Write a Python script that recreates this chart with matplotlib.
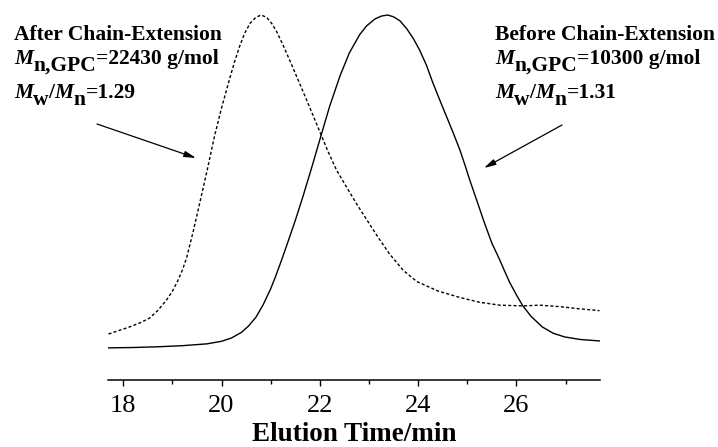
import matplotlib
matplotlib.use("Agg")
import matplotlib.pyplot as plt
from matplotlib.ticker import MultipleLocator

# GPC traces (elution time in min, normalised RI signal)
t_before = [17.69, 18.20, 18.70, 19.20, 19.70, 20.00, 20.20, 20.40, 20.55, 20.70,
            20.85, 21.00, 21.10, 21.22, 21.35, 21.50, 21.65, 21.83, 22.04, 22.20,
            22.41, 22.60, 22.81, 22.95, 23.12, 23.25, 23.38, 23.50, 23.63, 23.77,
            23.90, 24.03, 24.17, 24.30, 24.44, 24.58, 24.72, 24.85, 24.95, 25.05,
            25.19, 25.35, 25.50, 25.66, 25.76, 25.86, 26.00, 26.13, 26.30, 26.53,
            26.75, 26.98, 27.30, 27.69]
i_before = [0.088, 0.089, 0.091, 0.094, 0.099, 0.106, 0.115, 0.130, 0.148, 0.172,
            0.207, 0.250, 0.284, 0.328, 0.378, 0.437, 0.500, 0.580, 0.677, 0.750,
            0.833, 0.896, 0.946, 0.970, 0.989, 0.997, 1.000, 0.995, 0.984, 0.962,
            0.936, 0.904, 0.862, 0.814, 0.767, 0.721, 0.675, 0.630, 0.590, 0.548,
            0.493, 0.430, 0.375, 0.329, 0.298, 0.268, 0.233, 0.203, 0.174, 0.145,
            0.128, 0.118, 0.111, 0.107]

t_after = [17.70, 17.90, 18.14, 18.35, 18.54, 18.70, 18.88, 19.00, 19.11, 19.20,
           19.29, 19.42, 19.56, 19.70, 19.86, 20.00, 20.17, 20.27, 20.37, 20.47,
           20.58, 20.70, 20.81, 20.92, 21.02, 21.12, 21.25, 21.40, 21.59, 21.80,
           22.00, 22.17, 22.34, 22.55, 22.75, 22.95, 23.20, 23.42, 23.70, 23.97,
           24.40, 24.85, 25.25, 25.66, 26.13, 26.47, 26.88, 27.29, 27.69]
i_after = [0.126, 0.135, 0.146, 0.157, 0.170, 0.190, 0.219, 0.243, 0.272, 0.300,
           0.335, 0.405, 0.487, 0.570, 0.670, 0.745, 0.828, 0.874, 0.915, 0.950,
           0.977, 0.994, 1.000, 0.993, 0.977, 0.955, 0.918, 0.872, 0.812, 0.745,
           0.680, 0.625, 0.575, 0.527, 0.482, 0.440, 0.388, 0.345, 0.300, 0.270,
           0.244, 0.226, 0.213, 0.205, 0.203, 0.205, 0.201, 0.195, 0.190]

after_lines = ["After Chain-Extension", "22430 g/mol", "1.29"]
before_lines = ["Before Chain-Extension", "10300 g/mol", "1.31"]

SERIF = "Liberation Serif"
W, H = 718, 447

fig = plt.figure(figsize=(7.18, 4.47), dpi=100)
ax = fig.add_axes([108 / W, 1 - 380 / H, (600 - 108) / W, 370 / H])

ax.plot(t_before, i_before, color="black", lw=1.0)
ax.plot(t_after, i_after, color="black", lw=1.0, linestyle=(0, (2.2, 1.6)))

ax.set_xlim(17.69, 27.70)
ax.set_ylim(0, 370 / 365)

for s in ["left", "right", "top"]:
    ax.spines[s].set_visible(False)
ax.spines["bottom"].set_linewidth(1.1)
ax.set_yticks([])
ax.xaxis.set_major_locator(MultipleLocator(2))
ax.xaxis.set_minor_locator(MultipleLocator(1))
ax.tick_params(axis="x", which="major", direction="out", length=4.5, width=1.0, pad=6,
               labelsize=19)
ax.tick_params(axis="x", which="minor", direction="out", length=3.2, width=1.0)
for lab in ax.get_xticklabels():
    lab.set_fontfamily(SERIF)
ax.set_xlabel("Elution Time/min", fontfamily=SERIF, fontweight="bold", fontsize=19.5,
              labelpad=4)


def px(x, y):
    # figure-pixel position -> figure fraction
    return x / W, 1 - y / H


def chain(first, pieces, size):
    """Write text pieces one after another; each piece is (text, style, drop_px)."""
    prev = first
    prev_drop = 0
    for txt, style, drop in pieces:
        dy = -(drop - prev_drop) * 72 / 100
        prev = ax.annotate(txt, xy=(1, 0), xycoords=prev, xytext=(0, dy),
                           textcoords="offset points", va="bottom", ha="left",
                           fontfamily=SERIF, fontweight="bold", fontstyle=style,
                           fontsize=size, annotation_clip=False)
        prev_drop = drop
    return prev


def label_block(x0, lines, size=15.5):
    fig.text(*px(x0, 40), lines[0], fontfamily=SERIF, fontweight="bold",
             fontsize=size, va="baseline", ha="left")
    m1 = fig.text(*px(x0, 64), "M", fontfamily=SERIF, fontweight="bold",
                  fontstyle="italic", fontsize=size, va="baseline", ha="left")
    chain(m1, [("n,GPC", "normal", 7), ("=" + lines[1], "normal", 0)], size)
    m2 = fig.text(*px(x0, 98), "M", fontfamily=SERIF, fontweight="bold",
                  fontstyle="italic", fontsize=size, va="baseline", ha="left")
    chain(m2, [("w", "normal", 7), ("/", "normal", 0), ("M", "italic", 0),
               ("n", "normal", 7), ("=" + lines[2], "normal", 0)], size)


label_block(14, after_lines)
label_block(495, before_lines)

arrow = dict(arrowstyle="-|>,head_length=0.7,head_width=0.18", color="black",
             lw=0.9, shrinkA=0, shrinkB=0)
ax.annotate("", xy=px(196, 158), xycoords="figure fraction",
            xytext=px(97, 124), textcoords="figure fraction", arrowprops=arrow)
ax.annotate("", xy=px(484, 168), xycoords="figure fraction",
            xytext=px(562, 125), textcoords="figure fraction", arrowprops=arrow)

fig.savefig("out.png", dpi=100)
